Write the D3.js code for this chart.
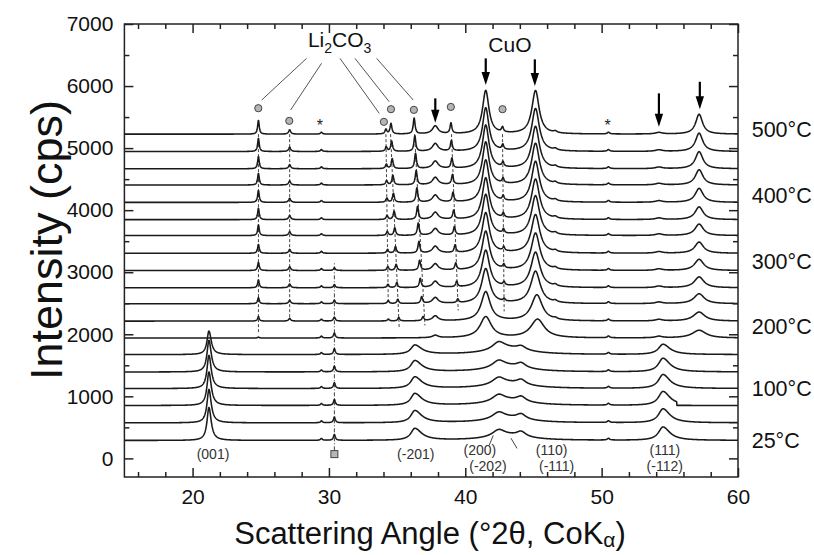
<!DOCTYPE html>
<html><head><meta charset="utf-8">
<script src="https://cdn.jsdelivr.net/npm/d3@7"></script>
<style>
body{margin:0;background:#fff}
svg{display:block}
text{font-family:"Liberation Sans",Arial,Helvetica,sans-serif}
</style></head>
<body><svg id="chart" width="814" height="555"></svg>
<script>
// ---------------- data ----------------
// 19 stacked patterns, bottom (25°C) to top (500°C): baseline level in cps
const offsets = [289,572,852,1125,1392,1672,1939,2212,2492,2749,3027,3305,3590,3847,4125,4405,4667,4945,5225];
const tempLabels = ["25°C","100°C","200°C","300°C","400°C","500°C"];
const tempLabelY = [290,1125,2135,3170,4233,5305];

// peak heights above baseline (cps) for each pattern, bottom to top
const h001  = [530,540,540,535,510,380,0,0,0,0,0,0,0,0,0,0,0,0,0];
const h294  = [30,30,30,30,30,30,30,30,30,30,30,30,30,30,30,30,30,30,30];
const h304  = [95,92,95,92,92,95,80,65,55,50,45,0,0,0,0,0,0,0,0];
const h201  = [190,195,190,185,180,150,0,0,0,0,0,0,0,0,0,0,0,0,0];
const h200  = [108,108,110,112,115,125,0,0,0,0,0,0,0,0,0,0,0,0,0];
const hHump = [75,75,78,80,85,95,0,0,0,0,0,0,0,0,0,0,0,0,0];
const h110  = [80,80,80,78,75,60,0,0,0,0,0,0,0,0,0,0,0,0,0];
const h505  = [28,28,28,28,28,28,28,28,28,28,28,28,28,28,28,28,28,28,28];
const h111  = [215,225,225,225,220,165,0,0,0,0,0,0,0,0,0,0,0,0,0];
const cut111 = [0,0,55.5,0,0,0,0,0,0,0,0,0,0,0,0,0,0,0,0];

const hL248 = [0,0,0,0,0,0,15,75,100,128,134,145,175,185,193,190,200,215,225];
const hL271 = [0,0,0,0,0,0,0,45,55,60,60,62,64,65,65,66,66,68,70];
const hL342 = [0,0,0,0,0,0,0,30,50,55,58,60,62,64,66,68,70,72,75];
const xL342 = [34.35,34.35,34.35,34.35,34.35,34.35,34.36,34.36,34.35,34.33,34.32,34.3,34.28,34.26,34.25,34.23,34.21,34.2,34.18];
const hL346 = [0,0,0,0,0,0,0,55,70,80,96,107,125,134,145,155,160,165,170];
const xL346 = [35.15,35.15,35.15,35.15,35.15,35.15,35.15,35.12,35.05,34.98,34.93,34.88,34.83,34.78,34.73,34.69,34.64,34.6,34.55];
const hL363 = [0,0,0,0,0,0,0,64,107,145,160,185,198,209,230,230,246,250,255];
const xL363 = [36.9,36.9,36.9,36.9,36.9,36.9,36.9,36.9,36.8,36.7,36.65,36.6,36.55,36.5,36.45,36.4,36.35,36.3,36.25];
const hC378 = [0,0,0,0,0,0,40,80,95,100,105,110,110,115,115,120,120,125,130];
const hL390 = [0,0,0,0,0,0,0,0,60,90,105,120,130,140,150,155,160,165,170];
const xL390 = [39.45,39.45,39.45,39.45,39.45,39.45,39.45,39.45,39.45,39.37,39.3,39.25,39.2,39.15,39.1,39.06,39.02,38.98,38.95];
const hC415 = [0,0,0,0,0,0,340,470,560,600,630,650,660,670,680,690,700,700,700];
const gC415 = [0.5,0.5,0.5,0.5,0.5,0.5,0.5,0.4,0.36,0.34,0.33,0.32,0.31,0.3,0.3,0.29,0.29,0.28,0.28];
const hL427 = [0,0,0,0,0,0,0,0,40,55,60,65,68,70,72,74,76,78,80];
const xL427 = [42.85,42.85,42.85,42.85,42.85,42.85,42.85,42.85,42.85,42.84,42.83,42.82,42.8,42.79,42.78,42.77,42.76,42.75,42.73];
const hC452 = [0,0,0,0,0,0,300,420,520,570,600,620,640,650,660,670,680,690,700];
const xC452 = [45.3,45.3,45.3,45.3,45.3,45.3,45.3,45.25,45.15,45.15,45.15,45.15,45.15,45.15,45.15,45.15,45.15,45.15,45.15];
const gC452 = [0.6,0.6,0.6,0.6,0.6,0.6,0.6,0.48,0.42,0.4,0.38,0.37,0.36,0.35,0.34,0.34,0.33,0.33,0.32];
const h466  = [0,0,0,0,0,0,0,20,25,25,25,25,25,25,25,25,25,25,25];
const hC542 = [0,0,0,0,0,0,25,25,25,25,25,25,25,25,25,25,25,25,25];
const hC572 = [0,0,0,0,0,0,125,145,160,175,180,180,185,205,225,245,275,295,320];
const gC572 = [0.6,0.6,0.6,0.6,0.6,0.6,0.6,0.5,0.45,0.42,0.4,0.38,0.37,0.36,0.35,0.34,0.33,0.32,0.3];

// annotation positions (2θ, cps)
const circles   = [[24.82,5643],[27.09,5439],[34.03,5423],[34.55,5627],[36.23,5616],[38.94,5664],[42.73,5627]];
const asterisks = [[29.34,5395],[50.43,5395]];
const arrows    = [[37.8,5802,5409],[41.5,6446,6016],[45.1,6430,6000],[54.2,5882,5344],[57.2,6069,5625]];
const leaders   = [[28.36,6446,25.07,5775],[29.46,6366,27.19,5614],[30.81,6446,33.69,5560],[31.91,6446,34.42,5747],[33.5,6446,36.18,5775]];
const dropLines = [[24.83,5225,24.83,2035],[27.12,5225,27.12,2235],[34.18,5225,34.35,2518],[34.52,5225,35.15,2116],[36.28,5225,37.04,2143],[38.99,5225,39.48,2384],[42.73,5225,42.85,2368]];
const dashDot   = [30.4,130,30.4,3161];
const squareMk  = [30.4,69];
const hklLabels = [["(001)",21.5,-10],["(-201)",36.37,-10],["(200)",41.07,47],["(-202)",41.66,-211],["(110)",46.33,47],["(-111)",46.7,-211],["(111)",54.63,47],["(-112)",54.63,-211]];
const hklLeaders = [[41.75,210,42.05,370],[43.8,160,43.35,325]];

const xTicks = [20,30,40,50,60];
const yTicks = [0,1000,2000,3000,4000,5000,6000,7000];

// ---------------- chart ----------------
const svg = d3.select("#chart");
const x = d3.scaleLinear().domain([15,60]).range([124.4,738]);
const y = d3.scaleLinear().domain([-300,7000]).range([477,24]);

const peaks = [
  {x:21.2, gL:.17, gR:.2, h:h001},
  {x:29.45, gL:.08, gR:.08, h:h294},
  {x:30.4, gL:.08, gR:.08, h:h304},
  {x:36.3, gL:.35, gR:.6, h:h201},
  {x:42.45, gL:.55, gR:.55, h:h200},
  {x:43.2, gL:1.8, gR:1.8, h:hHump},
  {x:44.1, gL:.4, gR:.4, h:h110},
  {x:50.5, gL:.1, gR:.1, h:h505},
  {x:54.5, gL:.4, gR:.6, h:h111, cut:cut111},
  {x:24.83, gL:.07, gR:.07, h:hL248},
  {x:27.12, gL:.09, gR:.09, h:hL271},
  {x:xL342, gL:.08, gR:.08, h:hL342},
  {x:xL346, gL:.08, gR:.08, h:hL346},
  {x:xL363, gL:.08, gR:.08, h:hL363},
  {x:37.8, gL:.25, gR:.25, h:hC378},
  {x:xL390, gL:.08, gR:.08, h:hL390},
  {x:41.5, g:gC415, h:hC415},
  {x:xL427, gL:.08, gR:.08, h:hL427},
  {x:xC452, g:gC452, h:hC452},
  {x:46.6, gL:.15, gR:.15, h:h466},
  {x:54.2, gL:.3, gR:.3, h:hC542},
  {x:57.15, g:gC572, h:hC572}
];

const grid = d3.range(15, 60.0001, 0.02);
function intensity(i, t){
  let s = offsets[i];
  for(const p of peaks){
    const hh = p.h[i]; if(!hh) continue;
    const c = Array.isArray(p.x) ? p.x[i] : p.x;
    if(p.cut && p.cut[i] && t > p.cut[i]) continue;
    const d = t - c;
    const g = p.g ? p.g[i] : (d < 0 ? p.gL : p.gR);
    s += hh / (1 + (d/g)*(d/g));
  }
  return s;
}
const traces = offsets.map((o,i)=> grid.map(t => [t, intensity(i,t)]));

svg.append("defs").append("clipPath").attr("id","clip")
  .append("rect").attr("x",124.4).attr("y",24).attr("width",738-124.4).attr("height",477-24);

// drop lines
const gAnn = svg.append("g").attr("clip-path","url(#clip)");
gAnn.selectAll("line.drop").data(dropLines).join("line")
  .attr("x1",d=>x(d[0])).attr("y1",d=>y(d[1])).attr("x2",d=>x(d[2])).attr("y2",d=>y(d[3]))
  .attr("stroke","#444").attr("stroke-width",1).attr("stroke-dasharray","3,2");
gAnn.append("line")
  .attr("x1",x(dashDot[0])).attr("y1",y(dashDot[1])).attr("x2",x(dashDot[2])).attr("y2",y(dashDot[3]))
  .attr("stroke","#444").attr("stroke-width",1).attr("stroke-dasharray","4,2,1,2");

// traces
const line = d3.line().x(d=>x(d[0])).y(d=>y(d[1]));
svg.append("g").attr("clip-path","url(#clip)")
  .selectAll("path").data(traces).join("path")
  .attr("d",line).attr("fill","none").attr("stroke","#1a1a1a").attr("stroke-width",1.55)
  .attr("stroke-linejoin","round");

// axes (ticks inward on all four sides)
const major = (ax,size)=>ax.tickSizeInner(size).tickSizeOuter(0);
svg.append("g").attr("transform","translate(0,477)")
  .call(major(d3.axisBottom(x).tickValues(xTicks).tickFormat(d3.format("d")).tickPadding(12.5),-9));
svg.append("g").attr("transform","translate(0,477)")
  .call(d3.axisBottom(x).tickValues(d3.range(16,60,2).filter(v=>v%10)).tickFormat("").tickSizeInner(-5).tickSizeOuter(0));
svg.append("g").attr("transform","translate(0,24)")
  .call(major(d3.axisTop(x).tickValues(xTicks).tickFormat(""),-9));
svg.append("g").attr("transform","translate(0,24)")
  .call(d3.axisTop(x).tickValues(d3.range(16,60,2).filter(v=>v%10)).tickFormat("").tickSizeInner(-5).tickSizeOuter(0));
svg.append("g").attr("transform","translate(124.4,0)")
  .call(major(d3.axisLeft(y).tickValues(yTicks).tickFormat(d3.format("d")).tickPadding(11),-9));
svg.append("g").attr("transform","translate(124.4,0)")
  .call(d3.axisLeft(y).tickValues(d3.range(500,7000,1000)).tickFormat("").tickSizeInner(-5).tickSizeOuter(0));
svg.append("g").attr("transform","translate(738,0)")
  .call(major(d3.axisRight(y).tickValues(yTicks).tickFormat(""),-9));
svg.append("g").attr("transform","translate(738,0)")
  .call(d3.axisRight(y).tickValues(d3.range(500,7000,1000)).tickFormat("").tickSizeInner(-5).tickSizeOuter(0));
svg.selectAll(".domain").remove();
svg.selectAll(".tick line").attr("stroke","#222").attr("stroke-width",1.5);
svg.selectAll(".tick text").attr("font-size",21).attr("fill","#111")
  .attr("font-family",'"Liberation Sans",Arial,sans-serif');

svg.append("rect").attr("x",124.4).attr("y",24).attr("width",738-124.4).attr("height",477-24)
  .attr("fill","none").attr("stroke","#222").attr("stroke-width",1.5);

// annotation markers
svg.selectAll("circle.li").data(circles).join("circle")
  .attr("cx",d=>x(d[0])).attr("cy",d=>y(d[1])).attr("r",3.6)
  .attr("fill","#b5b5b5").attr("stroke","#444").attr("stroke-width",1);
svg.selectAll("text.ast").data(asterisks).join("text")
  .attr("x",d=>x(d[0])).attr("y",d=>y(d[1])+7).attr("text-anchor","middle")
  .attr("font-size",16).attr("fill","#222").text("*");
const ag = svg.append("g");
arrows.forEach(a=>{
  const ax=x(a[0]), y0=y(a[1]), y1=y(a[2]);
  ag.append("line").attr("x1",ax).attr("x2",ax).attr("y1",y0).attr("y2",y1-10)
    .attr("stroke","#000").attr("stroke-width",2.2);
  ag.append("path").attr("d",`M${ax-4.2},${y1-13}L${ax+4.2},${y1-13}L${ax},${y1}Z`).attr("fill","#000");
});
svg.selectAll("line.lead").data(leaders).join("line")
  .attr("x1",d=>x(d[0])).attr("y1",d=>y(d[1])).attr("x2",d=>x(d[2])).attr("y2",d=>y(d[3]))
  .attr("stroke","#555").attr("stroke-width",1);
svg.append("rect").attr("x",x(squareMk[0])-3.5).attr("y",y(squareMk[1])-3.5).attr("width",7).attr("height",7)
  .attr("fill","#b5b5b5").attr("stroke","#444").attr("stroke-width",1);

// phase labels
const li = svg.append("text").attr("x",x(28.46)).attr("y",y(6629)).attr("font-size",21).attr("fill","#111");
li.append("tspan").text("Li");
li.append("tspan").attr("font-size",14).attr("dy",6).text("2");
li.append("tspan").attr("dy",-6).text("CO");
li.append("tspan").attr("font-size",14).attr("dy",6).text("3");
svg.append("text").attr("x",x(43.27)).attr("y",y(6548)).attr("text-anchor","middle")
  .attr("font-size",21).attr("fill","#111").text("CuO");

// hkl labels
svg.selectAll("text.hkl").data(hklLabels).join("text")
  .attr("x",d=>x(d[1])).attr("y",d=>y(d[2])).attr("text-anchor","middle")
  .attr("font-size",14).attr("fill","#333").text(d=>d[0]);
svg.selectAll("line.hkl").data(hklLeaders).join("line")
  .attr("x1",d=>x(d[0])).attr("y1",d=>y(d[1])).attr("x2",d=>x(d[2])).attr("y2",d=>y(d[3]))
  .attr("stroke","#444").attr("stroke-width",1);

// temperature labels
svg.selectAll("text.temp").data(tempLabels).join("text")
  .attr("x",751.7).attr("y",(d,i)=>y(tempLabelY[i])).attr("dy","0.36em")
  .attr("font-size",21.5).attr("fill","#111").text(d=>d);

// axis titles
svg.append("text").attr("transform","translate(62,240) rotate(-90)").attr("text-anchor","middle")
  .attr("font-size",45).attr("fill","#111").text("Intensity (cps)");
const xtTitle = svg.append("text").attr("x",430).attr("y",544).attr("text-anchor","middle")
  .attr("font-size",31).attr("fill","#111");
xtTitle.append("tspan").text("Scattering Angle (°2θ, CoK");
xtTitle.append("tspan").attr("font-size",21).attr("dy",3).text("α");
xtTitle.append("tspan").attr("dy",-3).text(")");
</script></body></html>
